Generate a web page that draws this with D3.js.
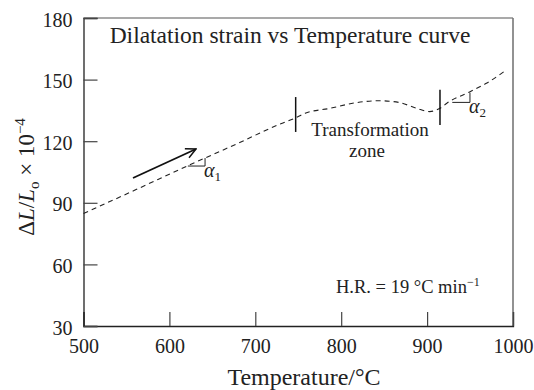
<!DOCTYPE html>
<html>
<head>
<meta charset="utf-8">
<script src="https://cdn.jsdelivr.net/npm/d3@7"></script>
<style>
  body { margin: 0; background: #fff; }
  text { font-family: "Liberation Serif", "Times New Roman", serif; fill: #222; }
</style>
</head>
<body>
<div id="chart"></div>
<script>
// dilatation curve
var temperature = [500, 560, 620, 680, 729, 746, 758, 787, 818, 845, 868, 888, 903, 911, 915, 923, 950, 969, 991];
var strain = [84.8, 96.2, 107.8, 119.0, 128.4, 131.2, 133.6, 136.0, 138.8, 139.7, 138.8, 136.0, 134.4, 135.2, 136.0, 138.5, 144.1, 148.2, 154.3];

var xTicks = [500, 600, 700, 800, 900, 1000];
var yTicks = [30, 60, 90, 120, 150, 180];

// start / end of the transformation zone
var markerT = [747, 915];
var markerLow = [124.5, 127.9];
var markerHigh = [141.5, 145.0];

// slope triangles (alpha1, alpha2)
var triT0 = [621.5, 929.3];
var triT1 = [641.5, 949.9];
var triV0 = [107.9, 138.9];
var triV1 = [111.8, 143.6];
var triLabel = ['1', '2'];

// heating direction arrow
var arrowT = [557.6, 631];
var arrowV = [102.1, 116.2];

var margin = { top: 18, right: 21, bottom: 64, left: 83.5 };
var width = 534 - margin.left - margin.right;
var height = 390 - margin.top - margin.bottom;

var x = d3.scaleLinear().domain([500, 1000]).range([0, width]);
var y = d3.scaleLinear().domain([30, 180]).range([height, 0]);

var svg = d3.select('#chart')
  .append('svg')
    .attr('width', 534)
    .attr('height', 390);

var g = svg.append('g')
  .attr('transform', 'translate(' + margin.left + ',' + margin.top + ')');

// frame: top and right a bit lighter
g.append('line').attr('x1', 0).attr('x2', width).attr('y1', 0).attr('y2', 0)
  .attr('stroke', '#555').attr('stroke-width', 1.2);
g.append('line').attr('x1', width).attr('x2', width).attr('y1', 0).attr('y2', height)
  .attr('stroke', '#777').attr('stroke-width', 1.6);

var xAxis = g.append('g')
  .attr('transform', 'translate(0,' + height + ')')
  .call(d3.axisBottom(x).tickValues(xTicks).tickFormat(d3.format('d')).tickSize(-14).tickPadding(13));
var yAxis = g.append('g')
  .call(d3.axisLeft(y).tickValues(yTicks).tickFormat(d3.format('d')).tickSize(-14).tickPadding(11));

[xAxis, yAxis].forEach(function(ax) {
  ax.select('.domain').attr('stroke', '#222').attr('stroke-width', 1.3);
  ax.selectAll('.tick line').attr('stroke', '#444').attr('stroke-width', 1.2);
  ax.selectAll('.tick text')
    .style('font-family', '"Liberation Serif", serif')
    .style('font-size', '20px')
    .attr('fill', '#222');
});
yAxis.selectAll('.tick text').attr('dy', '0.4em');

// dashed curve
var pts = temperature.map(function(t, i) { return [t, strain[i]]; });
var line = d3.line()
  .x(function(d) { return x(d[0]); })
  .y(function(d) { return y(d[1]); })
  .curve(d3.curveMonotoneX);

g.append('path')
  .datum(pts)
  .attr('d', line)
  .attr('fill', 'none')
  .attr('stroke', '#222')
  .attr('stroke-width', 1.1)
  .attr('stroke-dasharray', '5,4');

// zone markers
g.selectAll('.marker')
  .data(markerT)
  .enter().append('line')
    .attr('x1', function(d) { return x(d); })
    .attr('x2', function(d) { return x(d); })
    .attr('y1', function(d, i) { return y(markerLow[i]); })
    .attr('y2', function(d, i) { return y(markerHigh[i]); })
    .attr('stroke', '#111')
    .attr('stroke-width', 1.5);

// slope triangles
triT0.forEach(function(t0, i) {
  var px0 = x(t0), px1 = x(triT1[i]);
  var py0 = y(triV0[i]), py1 = y(triV1[i]);
  g.append('path')
    .attr('d', 'M' + px0 + ',' + py0 + 'H' + px1 + 'V' + py1)
    .attr('fill', 'none')
    .attr('stroke', '#222')
    .attr('stroke-width', 1);
  var lab = g.append('text')
    .attr('x', px1 - 1)
    .attr('y', py0 + 11)
    .style('font-size', '20px');
  lab.append('tspan').style('font-style', 'italic').text('\u03B1');
  lab.append('tspan').attr('dy', 4).style('font-size', '13px').text(triLabel[i]);
});

// arrow
svg.append('defs').append('marker')
  .attr('id', 'head')
  .attr('viewBox', '0 0 12 12')
  .attr('refX', 11).attr('refY', 6)
  .attr('markerWidth', 12).attr('markerHeight', 12)
  .attr('markerUnits', 'userSpaceOnUse')
  .attr('orient', 'auto')
  .append('path')
    .attr('d', 'M1,1 L11,6 L1,11')
    .attr('fill', 'none')
    .attr('stroke', '#111')
    .attr('stroke-width', 1.5);

g.append('line')
  .attr('x1', x(arrowT[0])).attr('y1', y(arrowV[0]))
  .attr('x2', x(arrowT[1])).attr('y2', y(arrowV[1]))
  .attr('stroke', '#111')
  .attr('stroke-width', 1.8)
  .attr('marker-end', 'url(#head)');

// texts
svg.append('text')
  .attr('x', 290).attr('y', 43)
  .attr('text-anchor', 'middle')
  .style('font-size', '23.5px')
  .text('Dilatation strain vs Temperature curve');

svg.append('text')
  .attr('x', 370).attr('y', 136)
  .attr('text-anchor', 'middle')
  .style('font-size', '19px')
  .text('Transformation');
svg.append('text')
  .attr('x', 367).attr('y', 157)
  .attr('text-anchor', 'middle')
  .style('font-size', '19px')
  .text('zone');

var hr = svg.append('text')
  .attr('x', 336).attr('y', 293)
  .style('font-size', '18.5px');
hr.append('tspan').text('H.R. = 19 \u00B0C min');
hr.append('tspan').attr('dy', -7).style('font-size', '12px').text('\u22121');

svg.append('text')
  .attr('x', 304).attr('y', 385)
  .attr('text-anchor', 'middle')
  .style('font-size', '24px')
  .text('Temperature/\u00B0C');

var yl = svg.append('text')
  .attr('transform', 'translate(34,177) rotate(-90)')
  .attr('text-anchor', 'middle')
  .style('font-size', '23px');
yl.append('tspan').text('\u0394');
yl.append('tspan').style('font-style', 'italic').text('L');
yl.append('tspan').text('/');
yl.append('tspan').style('font-style', 'italic').text('L');
yl.append('tspan').attr('dy', 5).style('font-size', '15px').text('o');
yl.append('tspan').attr('dy', -5).text(' \u00D7 10');
yl.append('tspan').attr('dy', -9).style('font-size', '15px').text('\u22124');
</script>
</body>
</html>
